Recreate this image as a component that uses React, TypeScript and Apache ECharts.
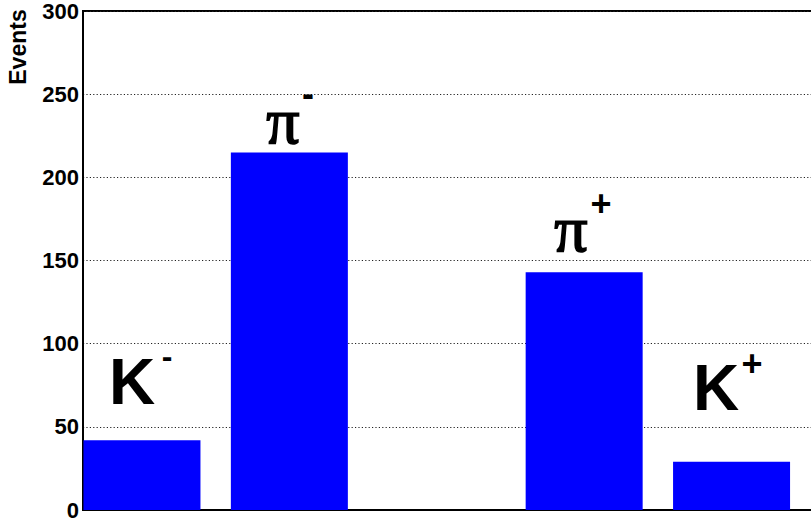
import React, { useEffect, useRef } from "react";
import * as echarts from "echarts";

// Particle species in slot order; the middle slot is left empty.
const species = ["K-", "π-", "", "π+", "K+"];
const events: (number | null)[] = [42, 215, null, 143, 29];
const yTicks = [0, 50, 100, 150, 200, 250, 300];

const SANS = "'Liberation Sans', Arial, sans-serif";
const SERIF = "'Liberation Serif', 'Times New Roman', serif";

export default function App() {
  const ref = useRef<HTMLDivElement>(null);

  useEffect(() => {
    if (!ref.current) return;
    const chart = echarts.init(ref.current, undefined, { renderer: "svg" });

    const barData = events
      .map((v, i) => (v === null ? null : [i + 1, v]))
      .filter((d) => d !== null);

    const glyph = (
      text: string,
      x: number,
      y: number,
      size: number,
      family: string,
      weight: string = "bold",
      strokeWidth: number = 0
    ) => ({
      type: "text",
      x,
      y,
      z: 10,
      style: {
        text,
        fill: "#000",
        stroke: strokeWidth ? "#000" : undefined,
        lineWidth: strokeWidth,
        font: `${weight} ${size}px ${family}`,
        align: "center",
        verticalAlign: "middle",
      },
    });

    chart.setOption({
      animation: false,
      backgroundColor: "#fff",
      grid: {
        left: 83,
        top: 10,
        width: 737,
        height: 500,
        show: true,
        borderColor: "#000",
        borderWidth: 2,
        backgroundColor: "transparent",
      },
      xAxis: {
        type: "value",
        min: 0.6,
        max: 5.6,
        axisLine: { show: true, onZero: false, lineStyle: { color: "#000", width: 2 } },
        axisTick: { show: false },
        axisLabel: { show: false },
        splitLine: { show: false },
      },
      yAxis: {
        type: "value",
        min: yTicks[0],
        max: yTicks[yTicks.length - 1],
        interval: 50,
        axisLine: { show: true, lineStyle: { color: "#000", width: 2 } },
        axisTick: { show: false },
        axisLabel: {
          margin: 4,
          color: "#000",
          fontFamily: SANS,
          fontWeight: "bold",
          fontSize: 22,
        },
        splitLine: {
          show: true,
          lineStyle: { color: "#222", width: 1, type: [1.2, 2.2] },
        },
      },
      series: [
        {
          type: "bar",
          data: barData,
          barWidth: 117,
          itemStyle: { color: "#0000ff" },
          z: 3,
        },
      ],
      graphic: [
        {
          type: "text",
          x: 18,
          y: 47,
          rotation: Math.PI / 2,
          style: {
            text: "Events",
            fill: "#000",
            font: `bold 23px ${SANS}`,
            align: "center",
            verticalAlign: "middle",
          },
        },
        // K-
        glyph("K", 132, 382, 64, SANS),
        glyph("-", 167, 356, 32, SANS),
        // π-
        glyph("π", 283, 120, 66, SERIF, "normal", 1.6),
        glyph("-", 308, 93, 36, SANS),
        // π+
        glyph("π", 571, 228, 66, SERIF, "normal", 1.6),
        glyph("+", 601, 203, 36, SANS),
        // K+
        glyph("K", 716, 388, 64, SANS),
        glyph("+", 752, 363, 36, SANS),
      ],
    });

    return () => chart.dispose();
  }, []);

  return (
    <div
      ref={ref}
      style={{ position: "fixed", left: 0, top: 0, width: 830, height: 523 }}
    />
  );
}
